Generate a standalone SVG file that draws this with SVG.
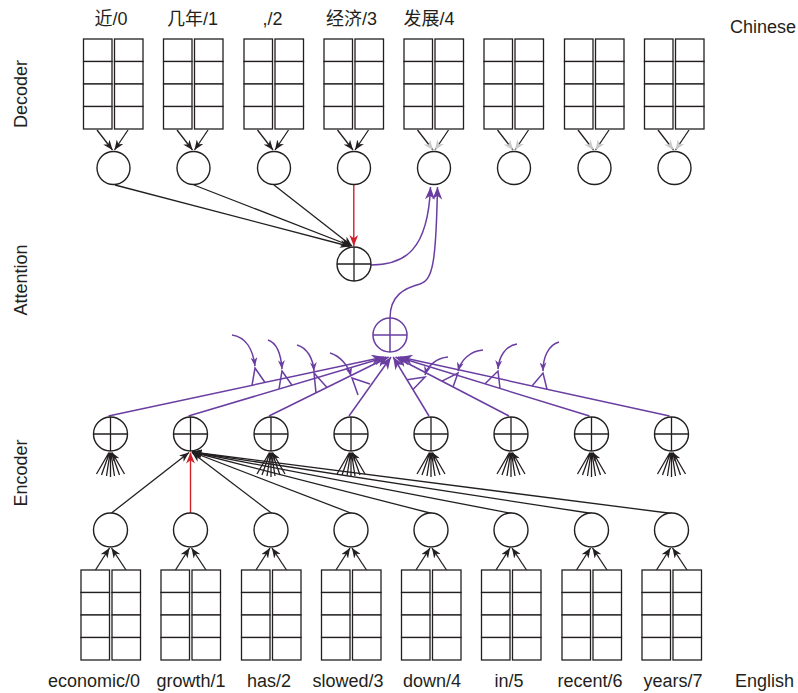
<svg xmlns="http://www.w3.org/2000/svg" xmlns:xlink="http://www.w3.org/1999/xlink" width="798" height="693" viewBox="0 0 798 693">
<style>
.s{stroke:#231f20;stroke-width:1.3;fill:none}
.r{stroke:#d0202a;stroke-width:1.4;fill:none}
.p{stroke:#6a3ea1;stroke-width:1.5;fill:none}
.c{fill:#fff;stroke:#231f20;stroke-width:1.4}
.pc{fill:#fff;stroke:#6a3ea1;stroke-width:1.5}
.t{font-family:"Liberation Sans",Arial,"Noto Sans CJK SC",sans-serif;font-size:18px;fill:#231f20}
.cell{fill:#fff;stroke:#231f20;stroke-width:1.3}
</style>
<defs>
<marker id="ab" viewBox="0 0 10 8" refX="10" refY="4" markerWidth="10" markerHeight="8" orient="auto" markerUnits="userSpaceOnUse"><path d="M0,0 L10,4 L0,8 L3,4z" fill="#231f20"/></marker>
<marker id="ag" viewBox="0 0 10 8" refX="10" refY="4" markerWidth="10" markerHeight="8" orient="auto" markerUnits="userSpaceOnUse"><path d="M0,0 L10,4 L0,8 L3,4z" fill="#c8c8c8"/></marker>
<marker id="ar" viewBox="0 0 10 8" refX="10" refY="4" markerWidth="11" markerHeight="9" orient="auto" markerUnits="userSpaceOnUse"><path d="M0,0 L10,4 L0,8 L3,4z" fill="#d0202a"/></marker>
<marker id="ap" viewBox="0 0 10 8" refX="10" refY="4" markerWidth="13" markerHeight="10" orient="auto" markerUnits="userSpaceOnUse"><path d="M0,0 L10,4 L0,8 L3,4z" fill="#6a3ea1"/></marker>
<marker id="as" viewBox="0 0 10 8" refX="10" refY="4" markerWidth="9" markerHeight="7" orient="auto" markerUnits="userSpaceOnUse"><path d="M0,0 L10,4 L0,8 L3,4z" fill="#6a3ea1"/></marker>
<marker id="af" viewBox="0 0 10 8" refX="10" refY="4" markerWidth="9" markerHeight="7" orient="auto" markerUnits="userSpaceOnUse"><path d="M0,0 L10,4 L0,8 L3,4z" fill="#231f20"/></marker>
<g id="box">
<rect class="cell" x="0" y="0" width="28.5" height="22.5"/><rect class="cell" x="0" y="22.5" width="28.5" height="22.5"/><rect class="cell" x="0" y="45" width="28.5" height="22.5"/><rect class="cell" x="0" y="67.5" width="28.5" height="22.5"/>
<rect class="cell" x="31" y="0" width="28.5" height="22.5"/><rect class="cell" x="31" y="22.5" width="28.5" height="22.5"/><rect class="cell" x="31" y="45" width="28.5" height="22.5"/><rect class="cell" x="31" y="67.5" width="28.5" height="22.5"/>
</g>
<g id="xc"><circle class="c" cx="0" cy="0" r="17"/><path class="s" d="M-17,0H17M0,-17V17"/></g>
<g id="fan" class="s">
<path d="M-14,22L-1.5,0.5M-9,23L-1,0.5M-4,24L-0.4,0.5M0,25V0.5M4,24L0.4,0.5M9,23L1,0.5M14,22L1.5,0.5" marker-end="url(#af)"/>
</g>
</defs>

<g id="labels">
<text class="t" transform="translate(27,94) rotate(-90)" text-anchor="middle">Decoder</text>
<text class="t" transform="translate(27,280) rotate(-90)" text-anchor="middle">Attention</text>
<text class="t" transform="translate(27,473) rotate(-90)" text-anchor="middle">Encoder</text>
<text class="t" x="730" y="33">Chinese</text>
<text class="t" x="735" y="687">English</text>
</g>

<g id="connectors">
<g class="s" marker-end="url(#ab)">
<path d="M97,130L112.5,150"/><path d="M128,130L114.5,150"/>
<path d="M177,130L192.5,150"/><path d="M208,130L194.5,150"/>
<path d="M257.5,130L273,150"/><path d="M288.5,130L275,150"/>
<path d="M337.5,130L353,150"/><path d="M368.5,130L355,150"/>
</g>
<g class="s" marker-end="url(#ag)">
<path d="M417.5,130L433,150"/><path d="M448.5,130L435,150"/>
<path d="M497.5,130L513,150"/><path d="M528.5,130L515,150"/>
<path d="M578,130L593.5,150"/><path d="M609,130L595.5,150"/>
<path d="M658,130L673.5,150"/><path d="M689,130L675.5,150"/>
</g>
<g class="s" marker-end="url(#ab)">
<path d="M115,185L350,246.5"/>
<path d="M194,185L351,246"/>
<path d="M274,185L352,246"/>
</g>
<path class="r" d="M353.8,185L353.8,246" marker-end="url(#ar)"/>
<path class="p" d="M371,265C405,265 428,250 430.5,187" marker-end="url(#ap)"/>
<path class="p" d="M390,318C390,295 405,288 420,284C433,280 436,262 437.5,187" marker-end="url(#ap)"/>
<g class="p" marker-end="url(#ap)">
<path d="M108.5,416L384,357"/>
<path d="M188.5,416L386.3,357"/>
<path d="M269,416L388.6,357"/>
<path d="M349,416L391,357"/>
<path d="M429,416L393.2,357"/>
<path d="M509,416L395.5,357"/>
<path d="M589.5,416L397.8,357"/>
<path d="M669.5,416L400,357"/>
</g>
<g class="p" marker-end="url(#as)">
<path d="M232,335C246,337 253,350 255,366"/>
<path d="M268,340C277,343 281,355 282,369"/>
<path d="M297,345C307,348 313,358 314,371"/>
<path d="M330,353C340,356 348,365 351,376"/>
<path d="M448,357C437,358 428,365 425,375"/>
<path d="M483,350C470,351 461,360 458,371"/>
<path d="M517,344C505,346 499,357 498,369"/>
<path d="M559,342C548,345 543,358 543,371"/>
</g>
<g class="p">
<path d="M252,385.3L255,368L265,382.5"/>
<path d="M279,389L282,371L292,385.2"/>
<path d="M316,392.8L314,373L327,387.4"/>
<path d="M358,395L352,378L370,384"/>
<path d="M413,389.6L425,377L407,379.7"/>
<path d="M453,386.9L458,373L442,381.2"/>
<path d="M500,388.4L498,371L485,383.8"/>
<path d="M547,389.2L543,373L532,385.9"/>
</g>
<use href="#fan" x="110.5" y="452"/>
<use href="#fan" x="271" y="452"/>
<use href="#fan" x="351" y="452"/>
<use href="#fan" x="431" y="452"/>
<use href="#fan" x="511" y="452"/>
<use href="#fan" x="591.5" y="452"/>
<use href="#fan" x="671.5" y="452"/>
<g class="s" marker-end="url(#ab)">
<path d="M111.5,513L189,452.5"/>
<path d="M272,513.5L192,452.5"/>
<path d="M352,513.5L192,452"/>
<path d="M432,513.5L192,452"/>
<path d="M512,513.5L192,452"/>
<path d="M592,513.5L192,452"/>
<path d="M672,513.5L192,452"/>
</g>
<path class="r" d="M190.5,513L190.5,452.5" marker-end="url(#ar)"/>
<g class="s" marker-end="url(#ab)">
<path d="M95.5,570L109.5,548"/><path d="M126,570L111.5,548"/>
<path d="M175.5,570L189.5,548"/><path d="M206,570L191.5,548"/>
<path d="M256,570L270,548"/><path d="M286.5,570L272,548"/>
<path d="M336,570L350,548"/><path d="M366.5,570L352,548"/>
<path d="M416,570L430,548"/><path d="M446.5,570L432,548"/>
<path d="M496,570L510,548"/><path d="M526.5,570L512,548"/>
<path d="M576.5,570L590.5,548"/><path d="M607,570L592.5,548"/>
<path d="M656.5,570L670.5,548"/><path d="M687,570L672.5,548"/>
</g>
</g>

<g id="dec0"><use href="#box" x="83.5" y="39"/><circle class="c" cx="113.5" cy="168" r="16.5"/><text class="t" x="111" y="25" text-anchor="middle">近/0</text></g>
<g id="dec1"><use href="#box" x="163.5" y="39"/><circle class="c" cx="193.5" cy="168" r="16.5"/><text class="t" x="192.5" y="25" text-anchor="middle">几年/1</text></g>
<g id="dec2"><use href="#box" x="244" y="39"/><circle class="c" cx="274" cy="168" r="16.5"/><text class="t" x="272.5" y="25" text-anchor="middle">,/2</text></g>
<g id="dec3"><use href="#box" x="324" y="39"/><circle class="c" cx="354" cy="168" r="16.5"/><text class="t" x="351.5" y="25" text-anchor="middle">经济/3</text></g>
<g id="dec4"><use href="#box" x="404" y="39"/><circle class="c" cx="434" cy="168" r="16.5"/><text class="t" x="429" y="25" text-anchor="middle">发展/4</text></g>
<g id="dec5"><use href="#box" x="484" y="39"/><circle class="c" cx="514" cy="168" r="16.5"/></g>
<g id="dec6"><use href="#box" x="564.5" y="39"/><circle class="c" cx="594.5" cy="168" r="16.5"/></g>
<g id="dec7"><use href="#box" x="644.5" y="39"/><circle class="c" cx="674.5" cy="168" r="16.5"/></g>

<g id="attn"><use href="#xc" x="354" y="264"/></g>
<g id="attn-enc"><circle class="pc" cx="390" cy="335" r="17"/><path class="p" d="M373,335H407M390,318V352"/></g>

<g id="encx0"><use href="#xc" x="110.5" y="434"/></g>
<g id="encx1"><use href="#xc" x="190.5" y="434"/></g>
<g id="encx2"><use href="#xc" x="271" y="434"/></g>
<g id="encx3"><use href="#xc" x="351" y="434"/></g>
<g id="encx4"><use href="#xc" x="431" y="434"/></g>
<g id="encx5"><use href="#xc" x="511" y="434"/></g>
<g id="encx6"><use href="#xc" x="591.5" y="434"/></g>
<g id="encx7"><use href="#xc" x="671.5" y="434"/></g>

<g id="enc0"><circle class="c" cx="110.5" cy="530" r="17"/><use href="#box" x="81" y="570"/><text class="t" x="94" y="687" text-anchor="middle">economic/0</text></g>
<g id="enc1"><circle class="c" cx="190.5" cy="530" r="17"/><use href="#box" x="161" y="570"/><text class="t" x="191" y="687" text-anchor="middle">growth/1</text></g>
<g id="enc2"><circle class="c" cx="271" cy="530" r="17"/><use href="#box" x="241.5" y="570"/><text class="t" x="269" y="687" text-anchor="middle">has/2</text></g>
<g id="enc3"><circle class="c" cx="351" cy="530" r="17"/><use href="#box" x="321.5" y="570"/><text class="t" x="348" y="687" text-anchor="middle">slowed/3</text></g>
<g id="enc4"><circle class="c" cx="431" cy="530" r="17"/><use href="#box" x="401.5" y="570"/><text class="t" x="432" y="687" text-anchor="middle">down/4</text></g>
<g id="enc5"><circle class="c" cx="511" cy="530" r="17"/><use href="#box" x="481.5" y="570"/><text class="t" x="509" y="687" text-anchor="middle">in/5</text></g>
<g id="enc6"><circle class="c" cx="591.5" cy="530" r="17"/><use href="#box" x="562" y="570"/><text class="t" x="590" y="687" text-anchor="middle">recent/6</text></g>
<g id="enc7"><circle class="c" cx="671.5" cy="530" r="17"/><use href="#box" x="642" y="570"/><text class="t" x="673" y="687" text-anchor="middle">years/7</text></g>
</svg>
